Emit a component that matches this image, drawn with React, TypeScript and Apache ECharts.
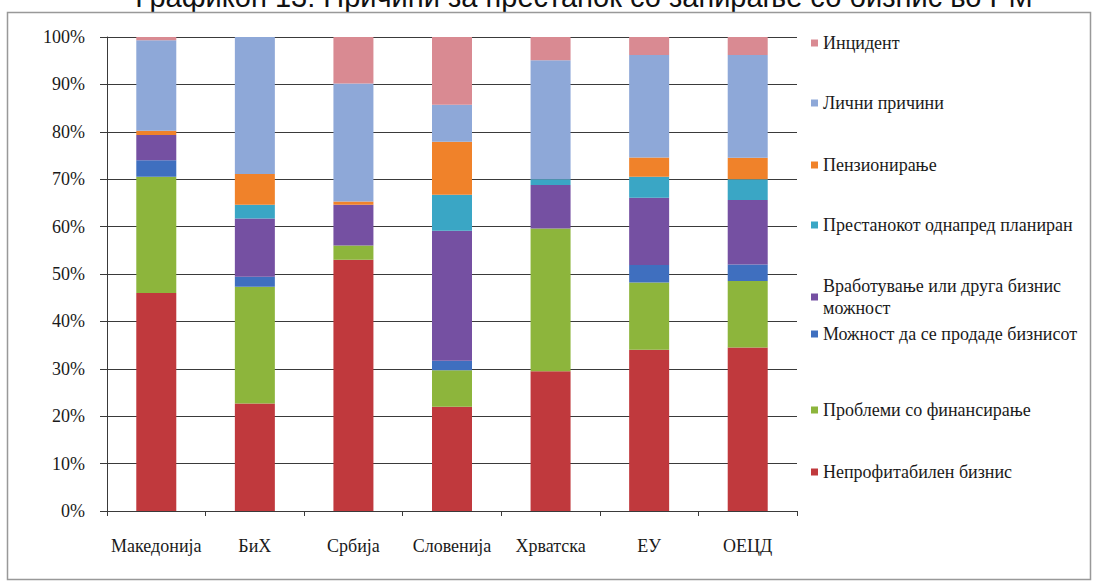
import React, { useEffect, useRef } from "react";
import * as echarts from "echarts";

const categories = ["Македонија", "БиХ", "Србија", "Словенија", "Хрватска", "ЕУ", "ОЕЦД"];

const seriesNames = [
  "Непрофитабилен бизнис",
  "Проблеми со финансирање",
  "Можност да се продаде бизнисот",
  "Вработување или друга бизнис можност",
  "Престанокот однапред планиран",
  "Пензионирање",
  "Лични причини",
  "Инцидент",
];

const unprofitable = [46.0, 22.7, 53.0, 22.0, 29.5, 34.0, 34.5];
const financing = [24.5, 24.6, 3.0, 7.7, 30.1, 14.2, 14.0];
const sellOpportunity = [3.5, 2.1, 0, 2.0, 0, 3.7, 3.5];
const employment = [5.3, 12.3, 8.6, 27.4, 9.2, 14.2, 13.6];
const planned = [0, 2.9, 0, 7.6, 1.2, 4.4, 4.4];
const retirement = [0.9, 6.5, 0.7, 11.2, 0, 4.1, 4.5];
const personal = [19.1, 28.9, 24.9, 7.8, 25.1, 21.6, 21.7];
const incident = [0.7, 0, 9.8, 14.3, 4.9, 3.8, 3.8];

const seriesValues = [unprofitable, financing, sellOpportunity, employment, planned, retirement, personal, incident];

const seriesColors = ["#C0393D", "#8DB53C", "#3F6FBF", "#7550A2", "#3AA6C5", "#F0822A", "#8EA8D8", "#D98A92"];

const yTicks = [0, 10, 20, 30, 40, 50, 60, 70, 80, 90, 100];

const titleText = "Графикон 13: Причини за престанок со запирање со бизнис во РМ";

const legendCenters = [43, 103, 165, 225, 297, 334, 410, 472];

export default function App() {
  const ref = useRef<HTMLDivElement>(null);

  useEffect(() => {
    if (!ref.current) return;
    const chart = echarts.init(ref.current, undefined, { renderer: "svg" });
    const serif = "'Liberation Serif', 'Times New Roman', serif";

    const legendOrder = seriesNames.map((_, i) => seriesNames.length - 1 - i); // top: Инцидент
    const legends = legendOrder.map((si, k) => {
      const twoLine = seriesNames[si] === "Вработување или друга бизнис можност";
      const lh = twoLine ? 22 : 18;
      const h = twoLine ? 44 : 18;
      return {
        show: true,
        orient: "vertical",
        left: 811,
        top: legendCenters[k] - h / 2,
        padding: 0,
        itemWidth: 7,
        itemHeight: 7,
        itemGap: 0,
        icon: "rect",
        data: [seriesNames[si]],
        formatter: (name: string) =>
          name === "Вработување или друга бизнис можност" ? "Вработување или друга бизнис\nможност" : name,
        textStyle: { fontFamily: serif, fontSize: 18, color: "#1a1a1a", lineHeight: lh },
      };
    });

    chart.setOption({
      animation: false,
      backgroundColor: "#ffffff",
      grid: { left: 107, right: 300, top: 37, bottom: 73, containLabel: false },
      legend: legends,
      xAxis: {
        type: "category",
        data: categories,
        axisLine: { show: true, lineStyle: { color: "#3a3a3a", width: 1 } },
        axisTick: { show: true, length: 5, lineStyle: { color: "#3a3a3a" } },
        axisLabel: {
          interval: 0,
          hideOverlap: false,
          fontFamily: serif,
          fontSize: 18,
          color: "#1a1a1a",
          margin: 26,
        },
        splitLine: { show: false },
      },
      yAxis: {
        type: "value",
        min: yTicks[0],
        max: yTicks[yTicks.length - 1],
        interval: 10,
        axisLine: { show: true, lineStyle: { color: "#3a3a3a", width: 1 } },
        axisTick: { show: true, inside: false, length: 7, lineStyle: { color: "#3a3a3a" } },
        axisLabel: { fontFamily: serif, fontSize: 18, color: "#1a1a1a", margin: 22, formatter: "{value}%" },
        splitLine: { show: true, lineStyle: { color: "#3a3a3a", width: 1 } },
      },
      graphic: [
        {
          type: "rect",
          silent: true,
          shape: { x: 7.5, y: 12.5, width: 1083, height: 567 },
          style: { fill: "none", stroke: "#999", lineWidth: 1.5 },
          z: 100,
        },
        {
          type: "text",
          silent: true,
          x: 584,
          y: 11,
          style: {
            text: titleText,
            fontFamily: "'Liberation Sans', Arial, sans-serif",
            fontSize: 29,
            fill: "#111",
            textAlign: "center",
            textVerticalAlign: "bottom",
          },
        },
      ],
      series: seriesNames.map((name, i) => ({
        name,
        type: "bar",
        stack: "total",
        barWidth: 40,
        data: seriesValues[i],
        itemStyle: { color: seriesColors[i] },
      })),
    });

    return () => chart.dispose();
  }, []);

  return <div ref={ref} style={{ position: "absolute", left: 0, top: 0, width: 1097, height: 584 }} />;
}
